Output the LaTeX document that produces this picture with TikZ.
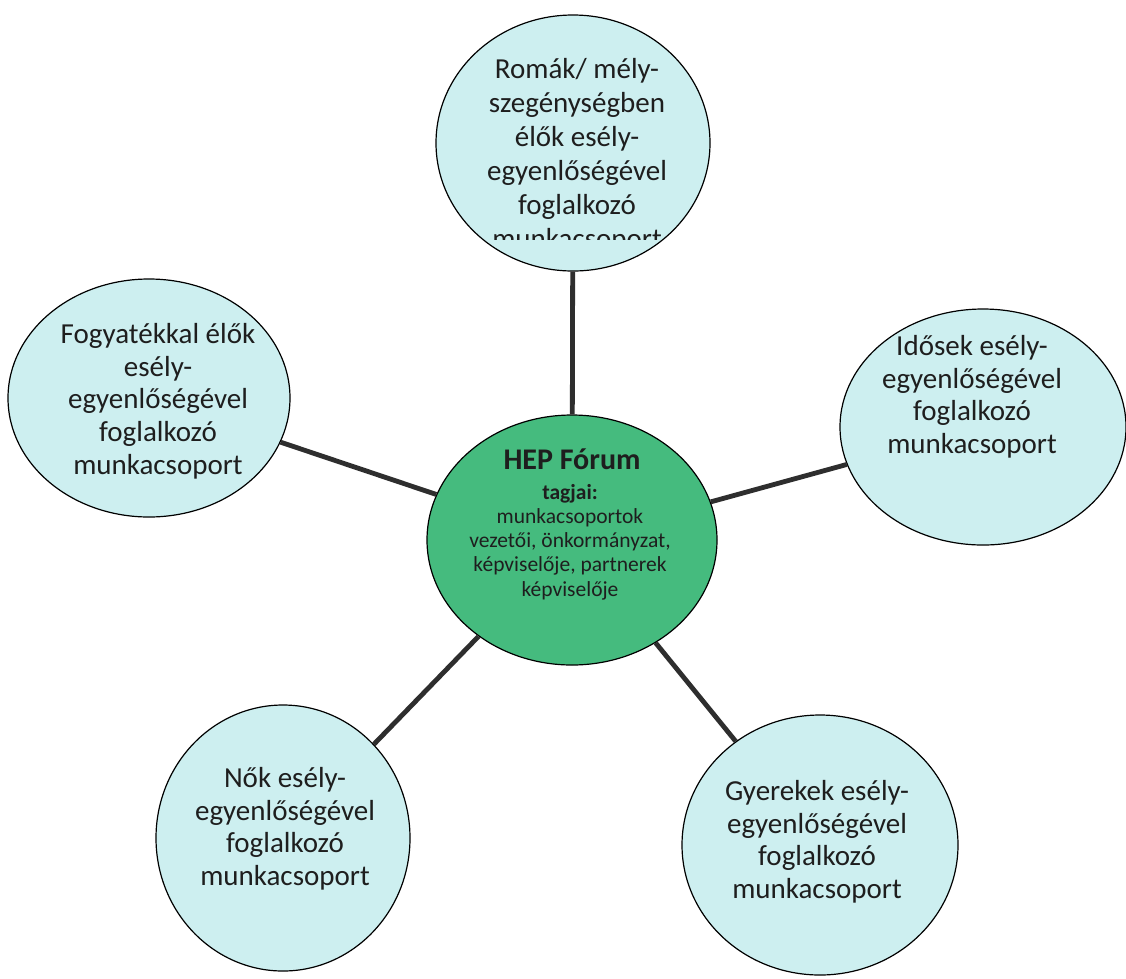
\documentclass[tikz,border=0pt]{standalone}
\usepackage{fontspec}
\setmainfont{Carlito}
\usetikzlibrary{shapes.geometric}
\definecolor{pale}{HTML}{CDEFF0}
\definecolor{forum}{HTML}{45BB7E}
\definecolor{ink}{HTML}{1E1E1E}
\definecolor{linkc}{HTML}{2E2E2E}
\begin{document}
\begin{tikzpicture}[x=1pt,y=-1pt,
  bubble/.style={ellipse, draw=black, line width=1.2pt, fill=pale, inner sep=0pt},
  hub/.style={ellipse, draw=black, line width=1.2pt, fill=forum, inner sep=0pt},
  txt/.style={align=center, text=ink, font=\fontsize{29}{32.8}\selectfont, inner sep=0pt},
  hubtxt/.style={align=center, text=ink, font=\fontsize{21.5}{24.2}\selectfont, inner sep=0pt},
  link/.style={draw=linkc, line width=4.8pt}]
\useasboundingbox (0,0) rectangle (1126,978);
\fill[white] (0,0) rectangle (1126,978);

% bubbles
\node[bubble, minimum width=274, minimum height=256] (top) at (573,143) {};
\node[bubble, minimum width=282, minimum height=238] (left) at (149,398) {};
\node[bubble, minimum width=286, minimum height=236] (right) at (983,427) {};
\node[hub, minimum width=290, minimum height=250] (hub) at (572,540) {};
\node[bubble, minimum width=254, minimum height=266] (bl) at (283,838) {};
\node[bubble, minimum width=276, minimum height=260] (br) at (820,845) {};

% connectors
\draw[link] (hub) -- (top);
\draw[link] (hub) -- (left);
\draw[link] (hub) -- (right);
\draw[link] (hub) -- (bl);
\draw[link] (hub) -- (br);

% texts
\begin{scope}
\clip (430,20) rectangle (720,239);
\node[txt, anchor=north, font=\fontsize{29}{34}\selectfont] (ttop) at (577,58) {Romák/ mély-\\szegénységben\\élők esély-\\egyenlőségével\\foglalkozó\\munkacsoport};
\end{scope}
\node[txt, anchor=north] (tleft) at (158,323) {Fogyatékkal élők\\esély-\\egyenlőségével\\foglalkozó\\munkacsoport};
\node[txt, anchor=north] (tright) at (972,335) {Idősek esély-\\egyenlőségével\\foglalkozó\\munkacsoport};
\node[txt, anchor=north] (tbl) at (285,767) {Nők esély-\\egyenlőségével\\foglalkozó\\munkacsoport};
\node[txt, anchor=north] (tbr) at (817,780) {Gyerekek esély-\\egyenlőségével\\foglalkozó\\munkacsoport};

\node[anchor=base, text=ink, inner sep=0pt, font=\fontsize{30}{32}\selectfont\bfseries] (title) at (572,469) {HEP Fórum};
\node[hubtxt, anchor=north] (members) at (570,484) {\textbf{tagjai:}\\munkacsoportok\\vezetői, önkormányzat,\\képviselője, partnerek\\képviselője};
\end{tikzpicture}
\end{document}
